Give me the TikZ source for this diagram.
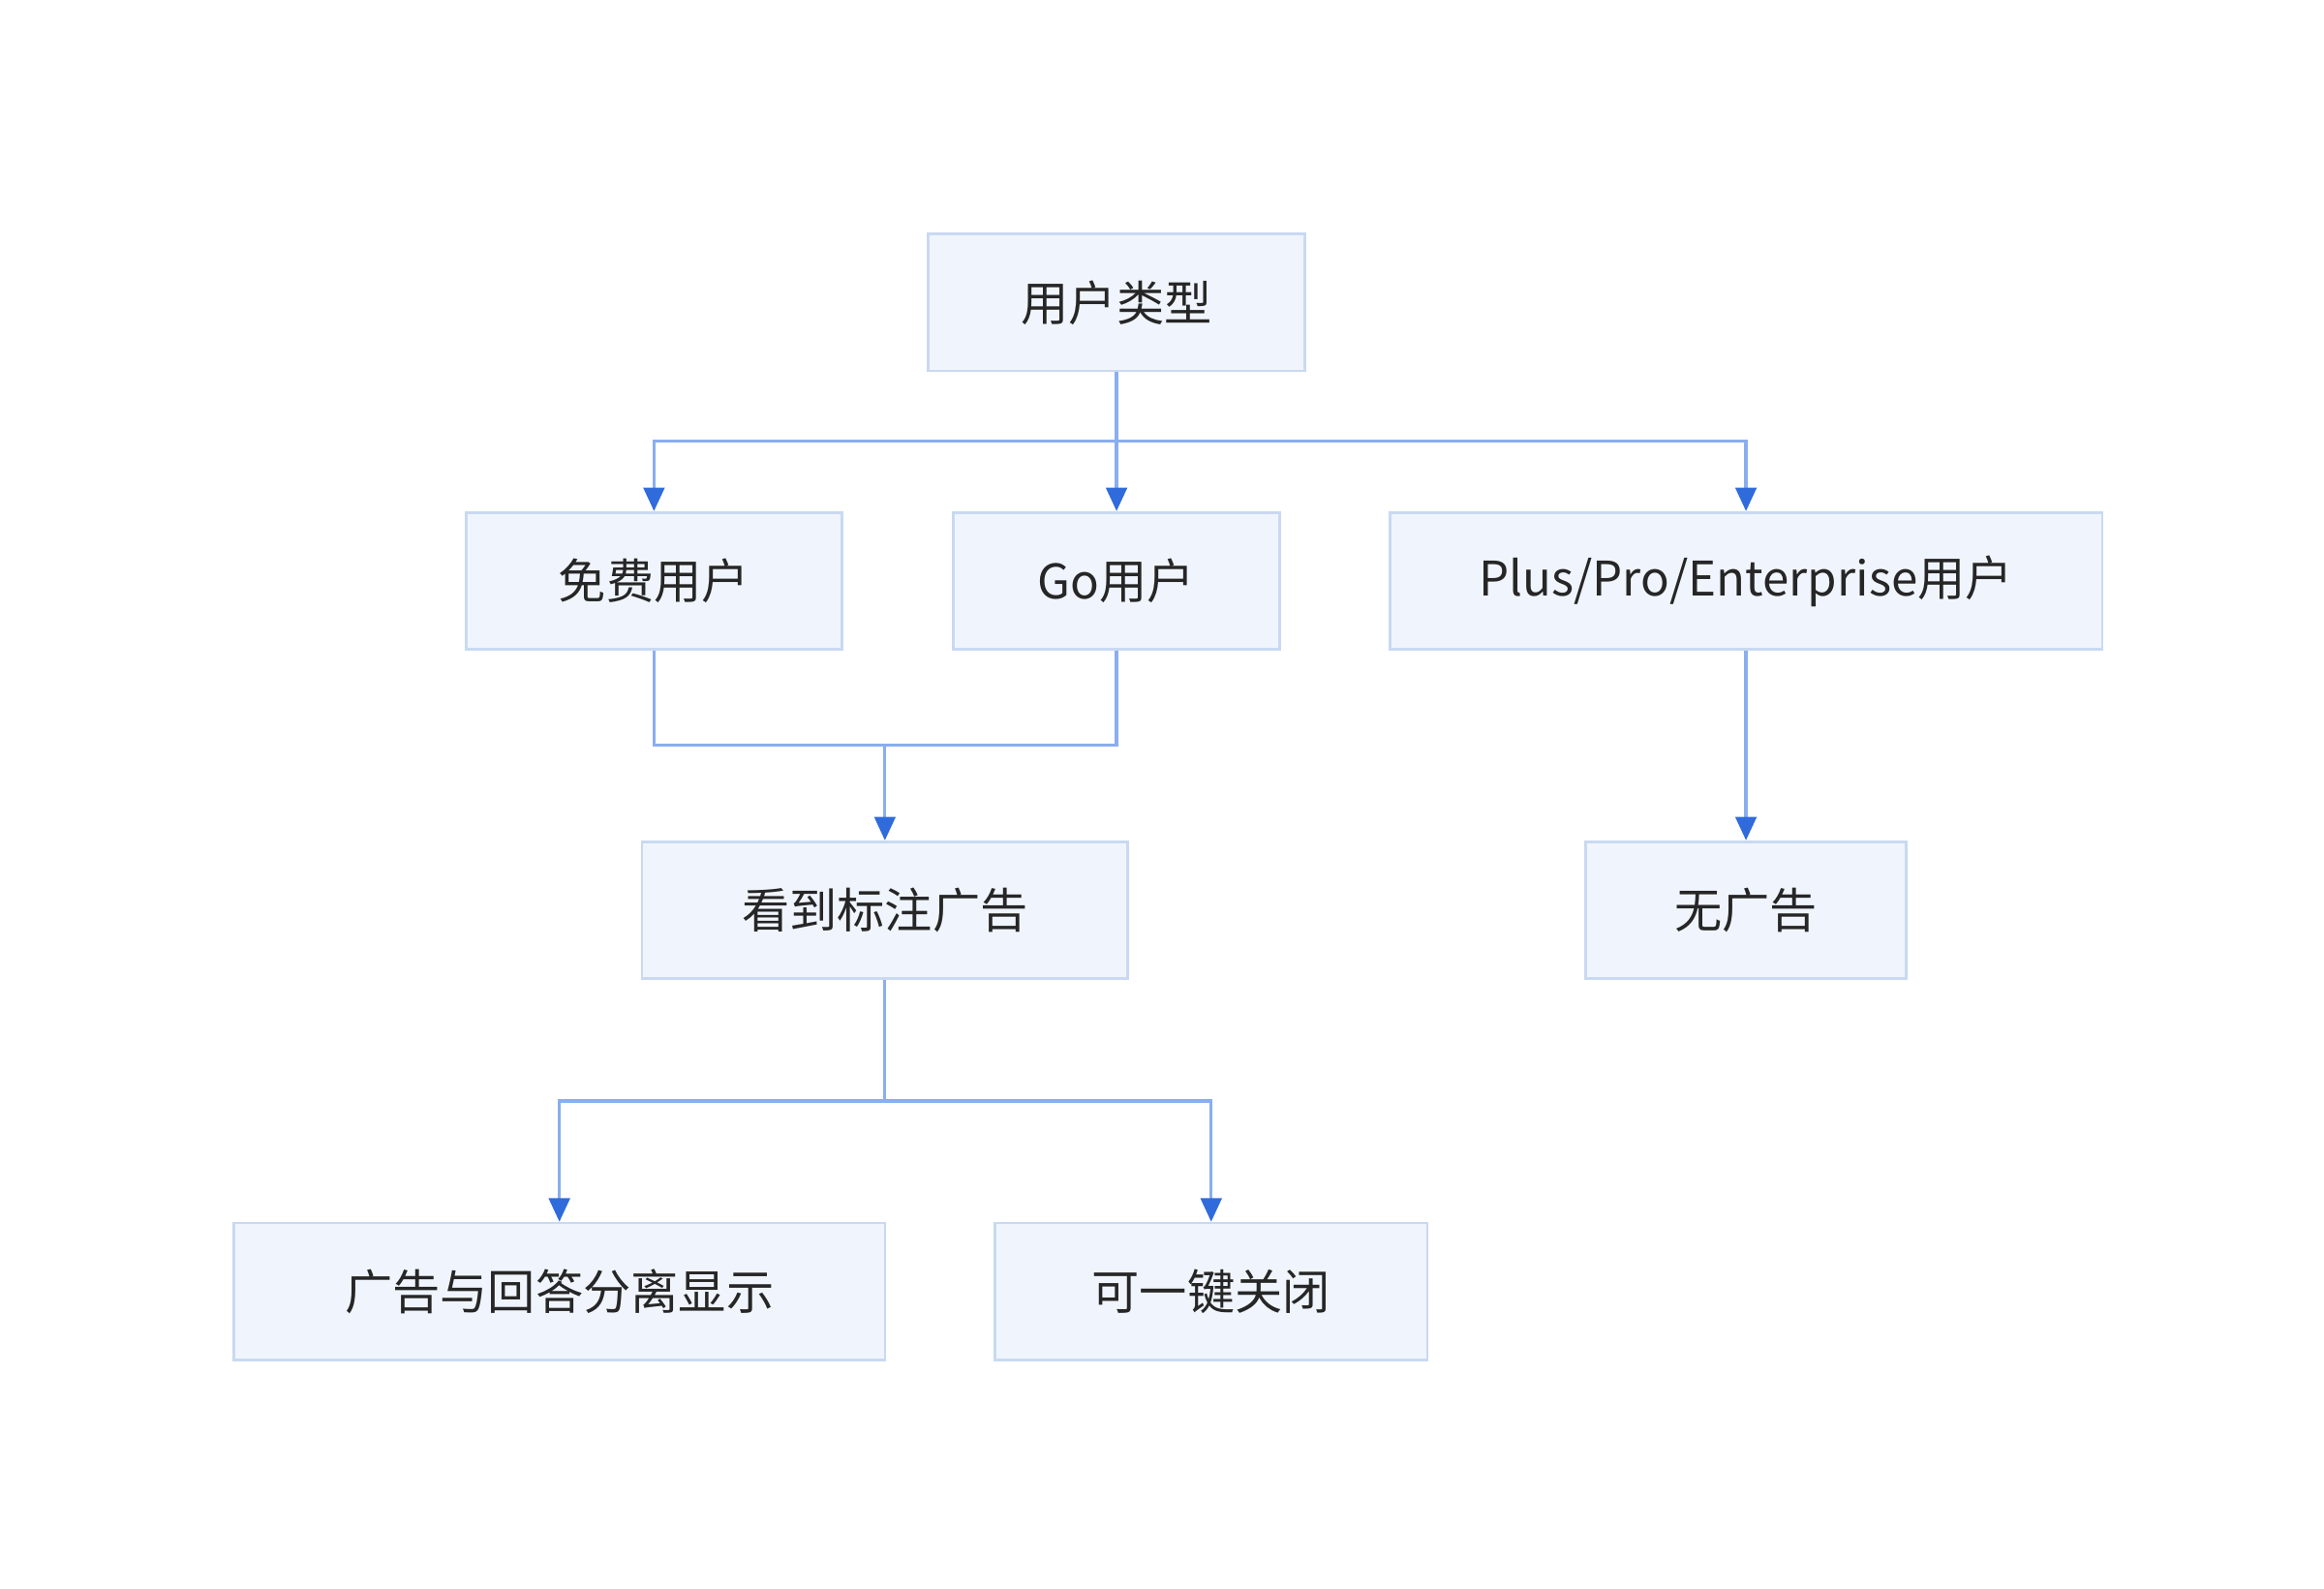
\documentclass[tikz,border=0pt]{standalone}
\usepackage{fontspec}
\setmainfont{Noto Sans CJK SC}
\usetikzlibrary{arrows.meta}
\definecolor{boxfill}{HTML}{F0F5FD}
\definecolor{boxline}{HTML}{C9D9F2}
\definecolor{linkline}{HTML}{8AAEEE}
\definecolor{tipblue}{HTML}{2F6BDB}
\tikzset{
    box/.style={draw=boxline, fill=boxfill, line width=0.5pt, minimum height=0.92cm, inner sep=0pt, font=\fontsize{9.1pt}{11pt}\selectfont, text=black!85},
    link/.style={draw=linkline, line width=0.6pt, -{Triangle[color=tipblue, length=4.5pt, width=4pt]}},
    bus/.style={draw=linkline, line width=0.6pt}
}
\begin{document}
\begin{tikzpicture}[x=0.01cm, y=0.01cm]
        \useasboundingbox (0,0) rectangle (1560,-1066);

        \node[box, minimum width=2.53cm] (type) at (749.5,-203) {用户类型};
        \node[box, minimum width=2.52cm] (free) at (439,-390) {免费用户};
        \node[box, minimum width=2.19cm] (go) at (749.5,-390) {Go用户};
        \node[box, minimum width=4.78cm] (paid) at (1172,-390) {Plus/Pro/Enterprise用户};
        \node[box, minimum width=3.26cm] (ads) at (594,-611) {看到标注广告};
        \node[box, minimum width=2.15cm] (noads) at (1172,-611) {无广告};
        \node[box, minimum width=4.37cm] (apart) at (375.5,-867) {广告与回答分离显示};
        \node[box, minimum width=2.90cm] (close) at (813,-867) {可一键关闭};

        \coordinate (split) at (749.5,-296);
        \draw[bus] (type.south) -- (split);
        \draw[link] (split) -| (free.north);
        \draw[link] (split) -- (go.north);
        \draw[link] (split) -| (paid.north);

        \coordinate (merge) at (594,-500);
        \draw[bus] (free.south) |- (merge);
        \draw[bus] (go.south) |- (merge);
        \draw[link] (merge) -- (ads.north);
        \draw[link] (paid.south) -- (noads.north);

        \coordinate (fork) at (594,-739);
        \draw[bus] (ads.south) -- (fork);
        \draw[link] (fork) -| (apart.north);
        \draw[link] (fork) -| (close.north);
    \end{tikzpicture}
\end{document}
